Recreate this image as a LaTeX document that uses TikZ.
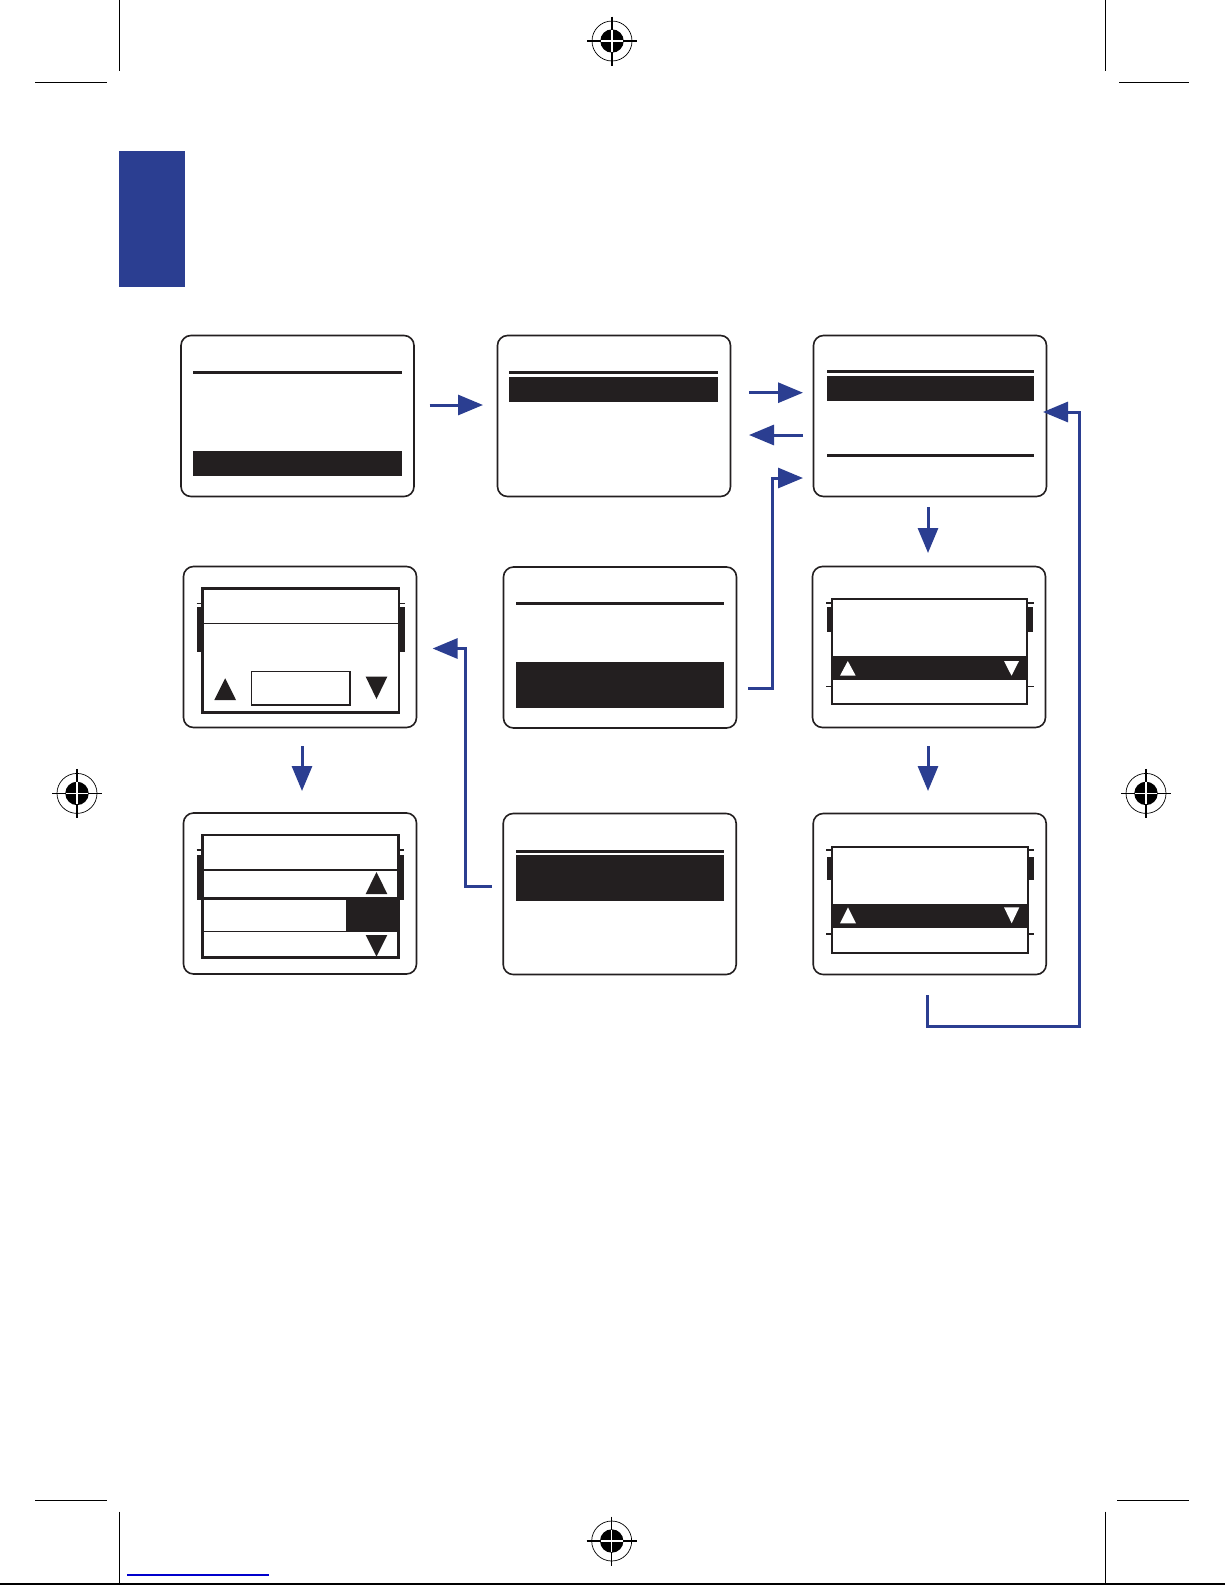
\documentclass[tikz,border=0pt]{standalone}
\usetikzlibrary{arrows.meta}
\definecolor{ink}{RGB}{35,31,32}
\definecolor{navy}{RGB}{43,62,145}
\definecolor{linkblue}{RGB}{0,0,204}
\tikzset{
  screen/.style={draw=ink, line width=1.6pt, rounded corners=10pt, minimum width=233pt, minimum height=161pt, inner sep=0pt, outer sep=0pt},
  flow/.style={draw=navy, line width=3pt, -{Triangle[length=25pt,width=20pt]}},
  lcd/.style={draw=ink, line width=2.4pt},
  thinrule/.style={draw=ink, line width=1.2pt},
  thickrule/.style={draw=ink, line width=3pt},
  crop/.style={draw=black, line width=1pt},
  regmark/.pic={
    \draw[black, line width=0.7pt] (0,0) circle (20);
    \fill[black] (0,0) circle (11.7);
    \draw[black, line width=1.1pt] (-25,0) -- (25,0) (0,-24.5) -- (0,24.5);
    \draw[white, line width=1.1pt] (-11,0) -- (11,0) (0,-11) -- (0,11);
  }
}
\begin{document}
\begin{tikzpicture}[x=1pt,y=-1pt]
\useasboundingbox (0,0) rectangle (1225,1585);
\fill[white] (0,0) rectangle (1225,1585);

% crop marks and page furniture
\draw[crop] (119.3,0) -- (119.3,70.7) (35,82) -- (106.7,82);
\draw[crop] (1105.7,0) -- (1105.7,70.7) (1119,82) -- (1189,82);
\draw[crop] (35,1500) -- (107,1500) (1117,1500) -- (1189,1500);
\draw[crop] (119.5,1511.7) -- (119.5,1585) (1105.5,1511.7) -- (1105.5,1585);
\draw[black, line width=1.5pt] (0,1584) -- (1225,1584);
\draw[linkblue, line width=1.2pt] (127,1575) -- (269,1575);
\pic at (612,41) {regmark};
\pic at (611.7,1541) {regmark};
\pic at (77,793.4) {regmark};
\pic at (1146,793.4) {regmark};

% header tab
\fill[navy] (119,150.6) rectangle (185,287);

% screens
\node[screen] (b1) at (297.5,416) {};
\node[screen] (b2) at (614,416) {};
\node[screen] (b3) at (930,416) {};
\node[screen] (b4) at (300,647) {};
\node[screen] (b5) at (620,647.5) {};
\node[screen] (b6) at (929,647) {};
\node[screen] (b7) at (300,893.5) {};
\node[screen] (b8) at (619.7,894) {};
\node[screen] (b9) at (929.7,894) {};

% b1
\draw[thickrule] (193,372.7) -- (402,372.7);
\fill[ink] (193,451) rectangle (402,476);
% b2
\draw[thickrule] (509,372.5) -- (718,372.5);
\fill[ink] (509,377) rectangle (718,402);
% b3
\draw[thickrule] (827,371) -- (1034,371);
\fill[ink] (827,376) rectangle (1034,401);
\draw[thickrule] (827,455.5) -- (1034,455.5);
% b5
\draw[thickrule] (516,603.7) -- (724,603.7);
\fill[ink] (516,661.7) rectangle (724,707.7);
% b8
\draw[thickrule] (516,851.3) -- (724,851.3);
\fill[ink] (516,855) rectangle (724,900.7);

% b4
\fill[ink] (196.7,606.7) rectangle (202.3,652.3);
\fill[ink] (399,606.7) rectangle (404.7,652.3);
\draw[thinrule] (196.7,603.3) -- (202.3,603.3) (399,603.3) -- (405,603.3);
\draw[lcd] (202.3,588.3) rectangle (399,712.3);
\draw[thinrule] (202.3,623.3) -- (399,623.3);
\draw[thinrule] (251.7,671.7) rectangle (350,705);
\fill[ink] (214.3,700) -- (236,700) -- (225.2,678.3) -- cycle;
\fill[ink] (365.7,676.7) -- (387.3,676.7) -- (376.5,699) -- cycle;

% b7
\fill[ink] (196.7,855) rectangle (202.3,900);
\fill[ink] (398.3,855) rectangle (404,900);
\draw[thinrule] (196.7,850) -- (202.3,850) (398.3,850) -- (404,850);
\fill[ink] (346,898.3) rectangle (398.3,931.7);
\draw[lcd] (202.3,835) rectangle (398.3,957.3);
\draw[thinrule] (202.3,870) -- (398.3,870);
\draw[lcd] (202.3,898.3) -- (398.3,898.3);
\draw[thinrule] (202.3,931.7) -- (398.3,931.7);
\fill[ink] (365.7,894) -- (387.3,894) -- (376.5,872) -- cycle;
\fill[ink] (365.7,935) -- (387.3,935) -- (376.5,956.7) -- cycle;

% b6
\fill[ink] (826.7,606.7) rectangle (831.7,632);
\fill[ink] (1027,606.7) rectangle (1033,632);
\draw[thinrule] (826,603) -- (831.7,603) (1027,603) -- (1034,603);
\draw[thinrule] (826,686.7) -- (831.7,686.7) (1027,686.7) -- (1034,686.7);
\fill[ink] (831.7,655.7) rectangle (1027,679.7);
\draw[lcd, line width=2pt] (831.7,599) rectangle (1027,704);
\fill[white] (840,675.7) -- (855.7,675.7) -- (847.8,661) -- cycle;
\fill[white] (1004,661) -- (1019,661) -- (1011.5,675.7) -- cycle;

% b9
\fill[ink] (826.7,856.7) rectangle (831.7,880);
\fill[ink] (1028,856.7) rectangle (1034,880);
\draw[thinrule] (826,850) -- (831.7,850) (1028,850) -- (1034,850);
\draw[thinrule] (826,934) -- (831.7,934) (1028,934) -- (1034,934);
\fill[ink] (831.7,904) rectangle (1028,928);
\draw[lcd, line width=2pt] (831.7,846.7) rectangle (1028,952.7);
\fill[white] (840,923.3) -- (856,923.3) -- (848,907.3) -- cycle;
\fill[white] (1004,907.3) -- (1019.3,907.3) -- (1011.7,923.3) -- cycle;

% connector end points
\coordinate (a1s) at (429.5,405);  \coordinate (a1e) at (483,405);
\coordinate (a2s) at (749,392.7);  \coordinate (a2e) at (803,392.7);
\coordinate (a3s) at (803,435);    \coordinate (a3e) at (749,435);
\coordinate (a4s) at (748,688);    \coordinate (a4e) at (803,478);
\coordinate (a5s) at (928,507);    \coordinate (a5e) at (928,553);
\coordinate (a6s) at (928,746);    \coordinate (a6e) at (928,791);
\coordinate (a7s) at (302,746);    \coordinate (a7e) at (302,791);
\coordinate (a8s) at (491.7,886.7); \coordinate (a8e) at (432.6,648.5);
\coordinate (a9s) at (927.7,995);  \coordinate (a9e) at (1043,412);

% connectors
\draw[flow] (a1s) -- (a1e);
\draw[flow] (a2s) -- (a2e);
\draw[flow] (a3s) -- (a3e);
\draw[flow] (a4s) -- (772,688) -- (772,478) -- (a4e);
\draw[flow] (a5s) -- (a5e);
\draw[flow] (a6s) -- (a6e);
\draw[flow] (a7s) -- (a7e);
\draw[flow] (a8s) -- (465,886.7) -- (465,648.5) -- (a8e);
\draw[flow] (a9s) -- (927.7,1026.7) -- (1079.5,1026.7) -- (1079.5,412) -- (a9e);
\end{tikzpicture}
\end{document}
